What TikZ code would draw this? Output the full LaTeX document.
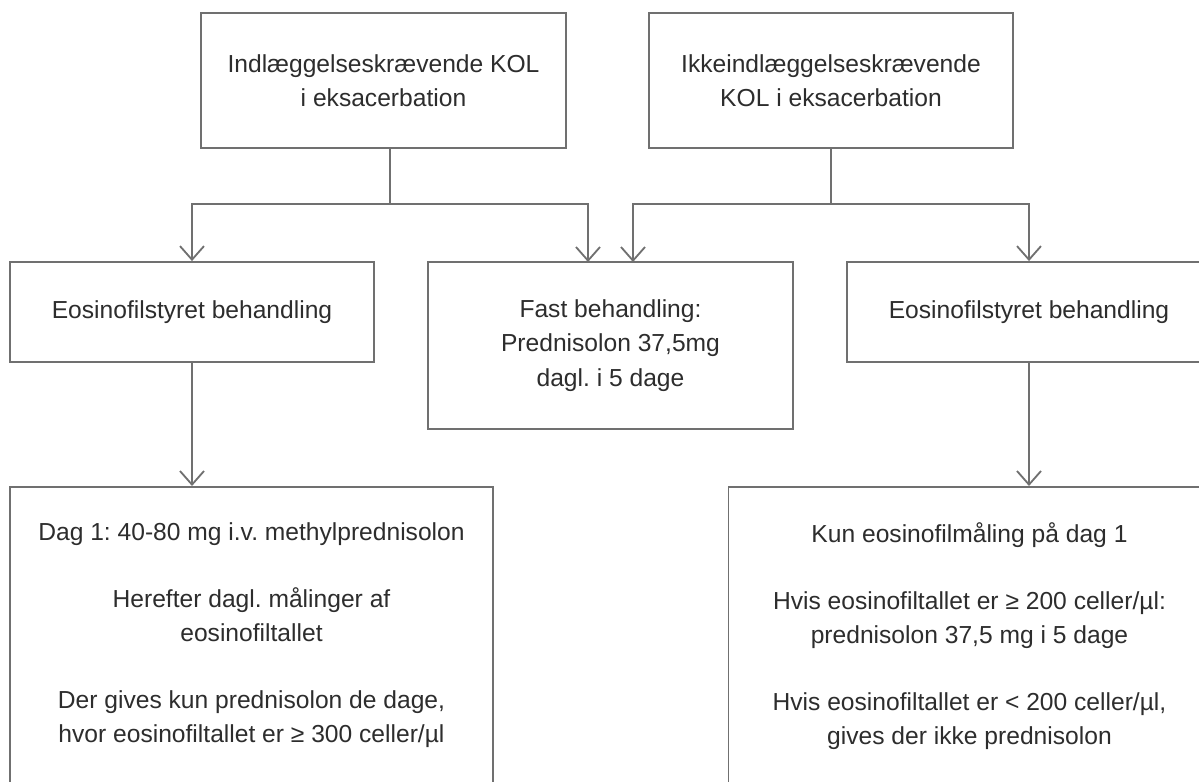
\documentclass[tikz,border=0pt]{standalone}
\usepackage{fontspec}
\setmainfont{Liberation Sans}
\frenchspacing
\usetikzlibrary{arrows.meta}
\definecolor{LineGray}{RGB}{112,112,112}
\definecolor{InkGray}{RGB}{45,45,45}
\tikzset{
  box/.style={draw=LineGray,line width=1.3pt,fill=white,align=center,text=InkGray,font=\fontsize{17.5}{24.5}\selectfont,inner sep=0pt},
  link/.style={draw=LineGray,line width=1.3pt},
  arr/.style={link,-{Straight Barb[length=3.4mm,width=6mm]}}
}

\begin{document}
\begin{tikzpicture}[x=0.025cm,y=-0.025cm]
  \useasboundingbox (0,0) rectangle (1199,782);
  \clip (0,0) rectangle (1199,782);
  % top row
  \node[box,minimum width=9.125cm,minimum height=3.375cm] (inl) at (383.5,80.5) {Indlæggelseskrævende KOL\\i eksacerbation};
  \node[box,minimum width=9.1cm,minimum height=3.375cm] (ikke) at (831,80.5) {Ikkeindlæggelseskrævende\\KOL i eksacerbation};
  % middle row
  \node[box,minimum width=9.1cm,minimum height=2.5cm] (eosL) at (192,312) {Eosinofilstyret behandling};
  \node[box,minimum width=9.125cm,minimum height=4.175cm] (fast) at (610.5,345.5) {Fast behandling:\\Prednisolon 37,5mg\\dagl. i 5 dage};
  \node[box,minimum width=9.1cm,minimum height=2.5cm] (eosR) at (1029,312) {Eosinofilstyret behandling};
  % bottom row
  \node[box,anchor=north,minimum width=12.075cm,inner ysep=0.9cm] (dagL) at (251.5,486) {Dag 1: 40-80 mg i.v. methylprednisolon\\[0.8cm]Herefter dagl. målinger af\\eosinofiltallet\\[0.8cm]Der gives kun prednisolon de dage,\\hvor eosinofiltallet er ≥ 300 celler/µl\\[2cm]\mbox{}};
  \node[box,anchor=north,minimum width=12.05cm,inner ysep=0.9cm] (kunR) at (969.5,486) {Kun eosinofilmåling på dag 1\\[0.8cm]Hvis eosinofiltallet er ≥ 200 celler/µl:\\prednisolon 37,5 mg i 5 dage\\[0.8cm]Hvis eosinofiltallet er < 200 celler/µl,\\gives der ikke prednisolon\\[2cm]\mbox{}};
  % connectors
  \coordinate (splitL) at (390,204);
  \coordinate (splitR) at (831,204);
  \coordinate (fastA) at (588,262);
  \coordinate (fastB) at (633,262);
  \draw[link] (splitL |- inl.south) -- (splitL);
  \draw[arr] (splitL) -| (eosL.north);
  \draw[arr] (splitL) -| (fastA);
  \draw[link] (splitR |- ikke.south) -- (splitR);
  \draw[arr] (splitR) -| (fastB);
  \draw[arr] (splitR) -| (eosR.north);
  \draw[arr] (eosL.south) -- (eosL.south |- dagL.north);
  \draw[arr] (eosR.south) -- (eosR.south |- kunR.north);
\end{tikzpicture}
\end{document}
